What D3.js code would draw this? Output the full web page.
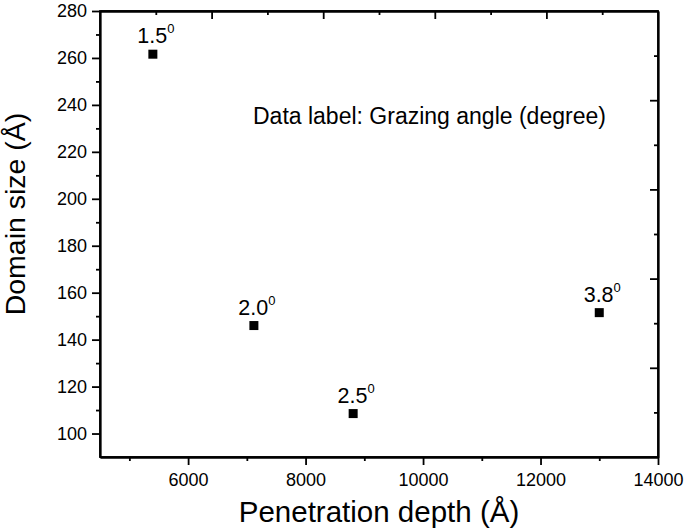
<!DOCTYPE html>
<html>
<head>
<meta charset="utf-8">
<script src="https://cdn.jsdelivr.net/npm/d3@7"></script>
<style>
  body { margin: 0; background: #fff; }
  svg { display: block; font-family: "Liberation Sans", Arial, Helvetica, sans-serif; }
  .axis text { font-family: "Liberation Sans", Arial, sans-serif; }
</style>
</head>
<body>
<svg id="chart" width="685" height="532"></svg>
<script>
// ---- data ----
const angleLabels = ["1.5", "2.0", "2.5", "3.8"];
const penetrationDepth = [5400, 7120, 8810, 13000];
const domainSize = [261.6, 146.0, 108.5, 151.5];

const xMajorTicks = [6000, 8000, 10000, 12000, 14000];
const xMinorTicks = [5000, 7000, 9000, 11000, 13000];
const yMajorTicks = [100, 120, 140, 160, 180, 200, 220, 240, 260, 280];
const yMinorTicks = [110, 130, 150, 170, 190, 210, 230, 250, 270];
const topMajorTicks = [6000, 8000, 10000, 12000];
const topMinorTicks = [5000, 7000, 9000, 11000, 13000];
const rightMajorTicks = [120, 160, 200, 240];
const rightMinorTicks = [100, 140, 180, 220, 260];

const xTitle = "Penetration depth (Å)";
const yTitle = "Domain size (Å)";
const note = "Data label: Grazing angle (degree)";

// ---- layout ----
const svg = d3.select("#chart");
const L = 100, R = 658, T = 11, B = 457;

const x = d3.scaleLinear().domain([4500, 14000]).range([L, R]);
const y = d3.scaleLinear().domain([90, 280]).range([B, T]);
const xTop = d3.scaleLinear().domain([4000, 14000]).range([L, R]);
const yRight = d3.scaleLinear().domain([80, 280]).range([B, T]);

const sw = 1.8;
function style(g) {
  g.selectAll("path.domain").attr("stroke", "#000").attr("stroke-width", sw);
  g.selectAll(".tick line").attr("stroke", "#000").attr("stroke-width", sw);
}

// bottom axis
const gb = svg.append("g").attr("class", "axis").attr("transform", `translate(0,${B})`)
  .call(d3.axisBottom(x).tickValues(xMajorTicks).tickSize(8).tickSizeOuter(0).tickPadding(8).tickFormat(d3.format("d")));
gb.selectAll("text").attr("font-size", 18).attr("fill", "#000");
style(gb);
const gbm = svg.append("g").attr("transform", `translate(0,${B})`)
  .call(d3.axisBottom(x).tickValues(xMinorTicks).tickSize(4).tickSizeOuter(0).tickFormat(""));
style(gbm);

// left axis
const gl = svg.append("g").attr("class", "axis").attr("transform", `translate(${L},0)`)
  .call(d3.axisLeft(y).tickValues(yMajorTicks).tickSize(8).tickSizeOuter(0).tickPadding(5).tickFormat(d3.format("d")));
gl.selectAll("text").attr("font-size", 18).attr("fill", "#000");
style(gl);
const glm = svg.append("g").attr("transform", `translate(${L},0)`)
  .call(d3.axisLeft(y).tickValues(yMinorTicks).tickSize(4).tickSizeOuter(0).tickFormat(""));
style(glm);

// top axis (inward ticks)
const gt = svg.append("g").attr("transform", `translate(0,${T})`)
  .call(d3.axisBottom(xTop).tickValues(topMajorTicks).tickSize(8).tickSizeOuter(0).tickFormat(""));
style(gt);
const gtm = svg.append("g").attr("transform", `translate(0,${T})`)
  .call(d3.axisBottom(xTop).tickValues(topMinorTicks).tickSize(4).tickSizeOuter(0).tickFormat(""));
style(gtm);

// right axis (inward ticks)
const gr = svg.append("g").attr("transform", `translate(${R},0)`)
  .call(d3.axisLeft(yRight).tickValues(rightMajorTicks).tickSize(8).tickSizeOuter(0).tickFormat(""));
style(gr);
const grm = svg.append("g").attr("transform", `translate(${R},0)`)
  .call(d3.axisLeft(yRight).tickValues(rightMinorTicks).tickSize(4).tickSizeOuter(0).tickFormat(""));
style(grm);

// frame
svg.append("rect").attr("x", L).attr("y", T).attr("width", R - L).attr("height", B - T)
  .attr("fill", "none").attr("stroke", "#000").attr("stroke-width", sw);

// points
const pts = penetrationDepth.map((d, i) => ({ x: d, y: domainSize[i], label: angleLabels[i] }));
const ms = 9;
svg.append("g").selectAll("rect").data(pts).join("rect")
  .attr("x", d => x(d.x) - ms / 2).attr("y", d => y(d.y) - ms / 2)
  .attr("width", ms).attr("height", ms).attr("fill", "#000");

// data labels
const lab = svg.append("g").selectAll("text").data(pts).join("text")
  .attr("x", d => x(d.x) + 3).attr("y", d => y(d.y) - 11)
  .attr("text-anchor", "middle").attr("font-size", 21.5).attr("fill", "#000");
lab.append("tspan").text(d => d.label);
lab.append("tspan").attr("font-size", 13).attr("dy", -10).text("0");

// annotation
svg.append("text").attr("x", 253).attr("y", 124).attr("font-size", 23).attr("fill", "#000").text(note);

// axis titles
svg.append("text").attr("x", (L + R) / 2).attr("y", 522).attr("text-anchor", "middle")
  .attr("font-size", 29.5).attr("fill", "#000").text(xTitle);
svg.append("text").attr("transform", `translate(25,${(T + B) / 2 - 20}) rotate(-90)`).attr("text-anchor", "middle")
  .attr("font-size", 28.5).attr("fill", "#000").text(yTitle);
</script>
</body>
</html>
